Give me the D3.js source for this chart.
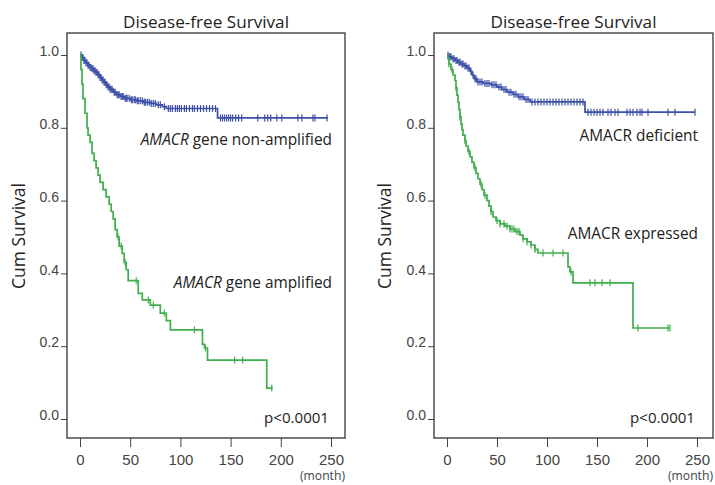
<!DOCTYPE html>
<html><head><meta charset="utf-8">
<script src="https://cdn.jsdelivr.net/npm/d3@7"></script>
<style>
body{margin:0;background:#fff;}
svg{display:block;}
</style></head>
<body>
<svg id="c" width="715" height="485"></svg>
<script>
// ---------- DATA ----------
const xTicks = [0, 50, 100, 150, 200, 250];
const yTicks = [0.0, 0.2, 0.4, 0.6, 0.8, 1.0];
const titleText = "Disease-free Survival";
const yLabel = "Cum Survival";
const xUnit = "(month)";
const pText = "p<0.0001";

// Left panel: AMACR gene non-amplified (blue) — [time, survival after event]
const leftBlueSteps = [[2,0.993],[4,0.985],[6,0.978],[8,0.972],[10,0.966],[12,0.962],[14,0.957],[16,0.952],[18,0.946],[20,0.938],[22,0.931],[24,0.925],[26,0.918],[28,0.912],[30,0.906],[33,0.898],[36,0.891],[40,0.886],[44,0.881],[50,0.877],[56,0.874],[63,0.870],[70,0.867],[76,0.863],[82,0.858],[86,0.853],[137,0.827]];
const leftBlueEnd = 247;
const leftBlueCensor = [1,2,3,4,5,6,7,8,9,10,11,12,13,14,15,16,17,18,19,20,21,22,23,24,25,26,27,28,29,30,31,32,34,35,37,38,39,41,42,43,45,46,47,49,51,52,54,55,57,58,60,62,64,65,67,69,71,73,75,78,80,84,88,90,92,95,97,99,101,104,106,109,112,114,117,120,123,126,129,132,135,140,142,144,146,148,150,152,155,158,161,177,184,187,190,196,201,217,221,232,234,246];

// Left panel: AMACR gene amplified (green)
const leftGreenSteps = [[1,0.96],[2,0.92],[3,0.88],[5,0.84],[7,0.80],[8,0.78],[10,0.76],[12,0.73],[14,0.71],[16,0.69],[18,0.67],[20,0.65],[23,0.63],[26,0.61],[29,0.59],[31,0.57],[33,0.55],[35,0.52],[37,0.50],[39,0.475],[42,0.455],[44,0.43],[46,0.41],[48,0.38],[58,0.345],[62,0.327],[70,0.313],[80,0.291],[86,0.27],[90,0.245],[122,0.205],[124,0.195],[127,0.162],[186,0.085]];
const leftGreenEnd = 192;
const leftGreenCensor = [38,41,45,56,68,73,84,114,125,154,162,191];

// Right panel: AMACR deficient (blue)
const rightBlueSteps = [[2,0.995],[5,0.99],[8,0.985],[11,0.98],[14,0.975],[17,0.97],[20,0.964],[23,0.955],[25,0.945],[27,0.935],[30,0.926],[36,0.922],[44,0.918],[50,0.912],[55,0.905],[60,0.898],[66,0.892],[71,0.885],[77,0.878],[83,0.871],[138,0.843]];
const rightBlueEnd = 248;
const rightBlueCensor = [1,2,3,4,6,7,9,10,12,13,15,16,18,19,21,22,24,26,28,29,31,33,35,38,40,42,45,47,49,52,54,57,59,62,64,67,69,72,74,76,79,81,85,88,91,94,97,100,103,106,109,112,115,118,121,124,127,130,133,136,141,144,147,150,153,156,161,164,168,171,180,183,186,190,193,195,201,221,228,248];

// Right panel: AMACR expressed (green)
const rightGreenSteps = [[1,0.99],[2,0.975],[4,0.96],[6,0.945],[8,0.93],[9,0.91],[10,0.89],[11,0.87],[12,0.85],[13,0.83],[14,0.81],[15,0.795],[16,0.78],[18,0.765],[19,0.75],[21,0.735],[23,0.72],[25,0.705],[27,0.69],[29,0.675],[31,0.66],[33,0.645],[35,0.63],[37,0.615],[40,0.60],[42,0.585],[44,0.57],[46,0.555],[49,0.545],[53,0.536],[58,0.53],[63,0.522],[68,0.515],[73,0.505],[76,0.495],[80,0.487],[84,0.478],[88,0.466],[91,0.456],[121,0.418],[123,0.404],[126,0.374],[186,0.25]];
const rightGreenEnd = 223;
const rightGreenCensor = [2,5,9,13,18,22,28,34,38,44,50,53,57,60,63,65,67,70,72,76,80,84,88,96,106,116,124,143,148,155,163,191,221,223];

const panels = [
  {frame:[67,33,345,438], x0:80, x250:331, ylx:19,
   curves:[{steps:leftBlueSteps,end:leftBlueEnd,censor:leftBlueCensor,color:"#3d4fa7"},
           {steps:leftGreenSteps,end:leftGreenEnd,censor:leftGreenCensor,color:"#3fae4c"}],
   labels:[{parts:[["AMACR","italic"],[" gene non-amplified","normal"]],y:145},
           {parts:[["AMACR","italic"],[" gene amplified","normal"]],y:288}],
   labelRight:332},
  {frame:[434,33,713,438], x0:447, x250:697, ylx:385,
   curves:[{steps:rightBlueSteps,end:rightBlueEnd,censor:rightBlueCensor,color:"#3d4fa7"},
           {steps:rightGreenSteps,end:rightGreenEnd,censor:rightGreenCensor,color:"#3fae4c"}],
   labels:[{parts:[["AMACR deficient","normal"]],y:141},
           {parts:[["AMACR expressed","normal"]],y:239}],
   labelRight:698}
];

// ---------- DRAW ----------
const svg = d3.select("#c");
const FONT = "'Open Sans', sans-serif";
const NUMFONT = "'Liberation Sans', Arial, sans-serif";
const y = d3.scaleLinear().domain([0,1]).range([419,55]);

function survAt(steps, t){
  let s = 1;
  for (const [tt, ss] of steps){ if (tt <= t) s = ss; else break; }
  return s;
}
// font-size giving a reference width
function fitSize(text, style, base, target){
  const t = svg.append("text").attr("font-family",FONT).attr("font-size",base).attr("font-style",style).text(text);
  const w = t.node().getComputedTextLength();
  t.remove();
  return w > 0 ? base*target/w : base;
}
const titleSize = fitSize(titleText, "normal", 15, 166);
const ylabSize = fitSize(yLabel, "normal", 16, 106);
const labelSize = fitSize("AMACR gene non-amplified", "normal", 15, 196);
const pSize = fitSize(pText, "normal", 15, 65);
const unitSize = fitSize(xUnit, "normal", 12, 45);

panels.forEach((p, i) => {
  const [fx0, fy0, fx1, fy1] = p.frame;
  const x = d3.scaleLinear().domain([0,250]).range([p.x0, p.x250]);
  const g = svg.append("g");

  // title
  g.append("text").attr("x",(fx0+fx1)/2).attr("y",28)
    .attr("text-anchor","middle").attr("font-family",FONT).attr("font-size",titleSize)
    .attr("fill","#222").text(titleText);

  // y label
  g.append("text").attr("transform",`translate(${p.ylx+6},236) rotate(-90)`)
    .attr("text-anchor","middle").attr("font-family",FONT).attr("font-size",ylabSize)
    .attr("fill","#222").text(yLabel);

  // y axis
  const ya = g.append("g").attr("transform",`translate(${fx0},0)`)
    .call(d3.axisLeft(y).tickValues(yTicks).tickSize(6).tickPadding(2).tickFormat(d3.format(".1f")));
  ya.select(".domain").remove();
  ya.selectAll("line").attr("stroke","#444");
  ya.selectAll("text").attr("font-family",NUMFONT).attr("font-size",14).attr("fill","#444").attr("dy","0.05em");

  // x axis
  const xa = g.append("g").attr("transform",`translate(0,${fy1})`)
    .call(d3.axisBottom(x).tickValues(xTicks).tickSize(9).tickPadding(7));
  xa.select(".domain").remove();
  xa.selectAll("line").attr("stroke","#444");
  xa.selectAll("text").attr("font-family",NUMFONT).attr("font-size",15).attr("fill","#444");

  g.append("text").attr("x",fx1).attr("y",480).attr("text-anchor","end")
    .attr("font-family",FONT).attr("font-size",unitSize).attr("fill","#444").text(xUnit);

  // frame
  g.append("rect").attr("x",fx0).attr("y",fy0).attr("width",fx1-fx0).attr("height",fy1-fy0)
    .attr("fill","none").attr("stroke","#333").attr("stroke-width",1.3);

  // curves
  const line = d3.line().x(d=>x(d[0])).y(d=>y(d[1])).curve(d3.curveStepAfter);
  p.curves.forEach(c => {
    const pts = [[0,1], ...c.steps, [c.end, c.steps[c.steps.length-1][1]]];
    g.append("path").datum(pts).attr("d",line).attr("fill","none")
      .attr("stroke",c.color).attr("stroke-width",1.7);
    g.append("g").selectAll("line").data(c.censor).join("line")
      .attr("x1",d=>x(d)).attr("x2",d=>x(d))
      .attr("y1",d=>y(survAt(c.steps,d))-3.5).attr("y2",d=>y(survAt(c.steps,d))+3.5)
      .attr("stroke",c.color).attr("stroke-width",1.2);
  });

  // labels
  p.labels.forEach(l => {
    const t = g.append("text").attr("x",p.labelRight).attr("y",l.y).attr("text-anchor","end")
      .attr("font-family",FONT).attr("font-size",labelSize).attr("fill","#222");
    l.parts.forEach(([s,st]) => t.append("tspan").attr("font-style",st).text(s));
  });
  g.append("text").attr("x",p.labelRight-3).attr("y",423).attr("text-anchor","end")
    .attr("font-family",FONT).attr("font-size",pSize).attr("fill","#222").text(pText);
});
</script>
</body></html>
